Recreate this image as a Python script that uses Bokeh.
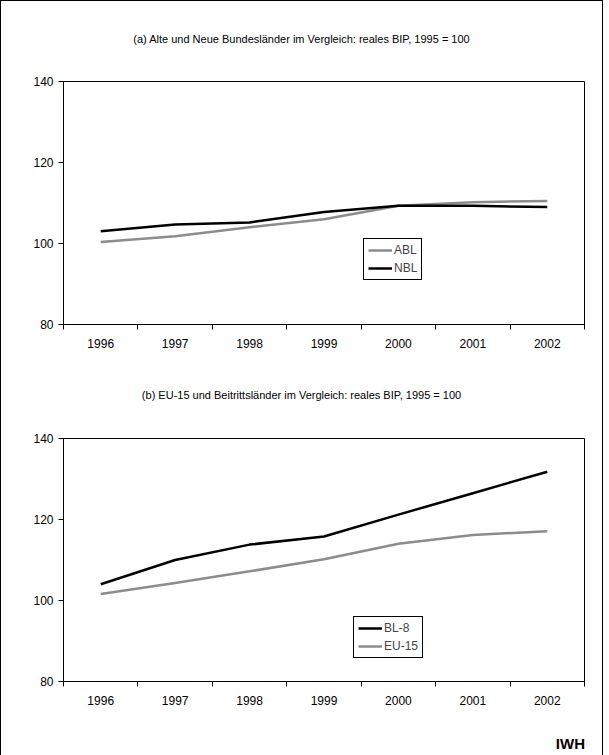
from bokeh.embed import file_html
from bokeh.resources import INLINE
from bokeh.layouts import column
from bokeh.models import Div, FixedTicker, InlineStyleSheet, Legend, Range1d
from bokeh.plotting import figure

years = [1996, 1997, 1998, 1999, 2000, 2001, 2002]
abl = [100.4, 101.8, 104.0, 106.0, 109.3, 110.2, 110.5]
nbl = [103.0, 104.7, 105.2, 107.8, 109.3, 109.3, 109.0]
bl8 = [104.0, 110.0, 113.8, 115.8, 121.2, 126.5, 131.8]
eu15 = [101.6, 104.3, 107.2, 110.2, 114.0, 116.2, 117.1]
y_ticks = [80, 100, 120, 140]

FONT = "Liberation Sans"
GREY = "#8c8c8c"
W = 591


def make_fig(series, legend_xy, bottom):
    p = figure(width=W, height=243 + 9 + bottom, output_backend="svg",
               toolbar_location=None, x_range=Range1d(1995.5, 2002.5),
               y_range=Range1d(80, 140), min_border_left=62,
               min_border_right=W - 62 - 521, min_border_top=9, min_border_bottom=bottom)
    items = []
    for name, vals, color in series:
        r = p.line(years, vals, line_color=color, line_width=2.5)
        items.append((name, [r]))
    leg = Legend(items=items, location=legend_xy, border_line_color="black",
                 border_line_alpha=1, label_text_font=FONT, label_text_font_size="12px",
                 glyph_width=24, glyph_height=14, label_standoff=2,
                 padding=4, spacing=4, margin=0, background_fill_alpha=1)
    p.add_layout(leg)
    p.grid.visible = False
    p.outline_line_color = "black"
    p.outline_line_alpha = 1
    p.xaxis.ticker = FixedTicker(ticks=years,
                                 minor_ticks=[y - 0.5 for y in years] + [2002.5])
    p.xaxis.major_tick_line_color = None
    p.xaxis.minor_tick_in = 0
    p.xaxis.minor_tick_out = 5
    p.xaxis.minor_tick_line_color = "black"
    p.yaxis.ticker = FixedTicker(ticks=y_ticks, minor_ticks=[])
    p.yaxis.major_tick_in = 0
    p.yaxis.major_tick_out = 5
    for ax in (p.xaxis, p.yaxis):
        ax.axis_line_color = "black"
        ax.major_label_text_font = FONT
        ax.major_label_text_font_size = "12px"
        ax.major_label_text_color = "black"
    p.xaxis.major_label_standoff = 8
    return p


def title_div(text, h, pad):
    return Div(text=text, width=W, height=h,
               styles={"font-family": FONT, "font-size": "11px", "text-align": "center",
                       "padding-top": f"{pad}px", "box-sizing": "border-box",
                       "width": f"{W}px"})


p1 = make_fig([("ABL", abl, GREY), ("NBL", nbl, "black")], (300, 44), 45)
p2 = make_fig([("BL-8", bl8, "black"), ("EU-15", eu15, GREY)], (290, 23), 45)

d1 = title_div("(a) Alte und Neue Bundesländer im Vergleich: reales BIP, 1995 = 100", 61, 26)
d2 = title_div("(b) EU-15 und Beitrittsländer im Vergleich: reales BIP, 1995 = 100", 50, 14)
iwh = Div(text="IWH", width=W, height=24,
          styles={"font-family": FONT, "font-size": "15px", "font-weight": "bold",
                  "text-align": "right", "width": f"{W - 12}px", "padding-top": "2px"})

frame_css = InlineStyleSheet(css=":host { border: 1px solid black; box-sizing: content-box; }")
layout = column(d1, p1, d2, p2, iwh, spacing=0, stylesheets=[frame_css])

open("out.html", "w").write(file_html(layout, INLINE))
